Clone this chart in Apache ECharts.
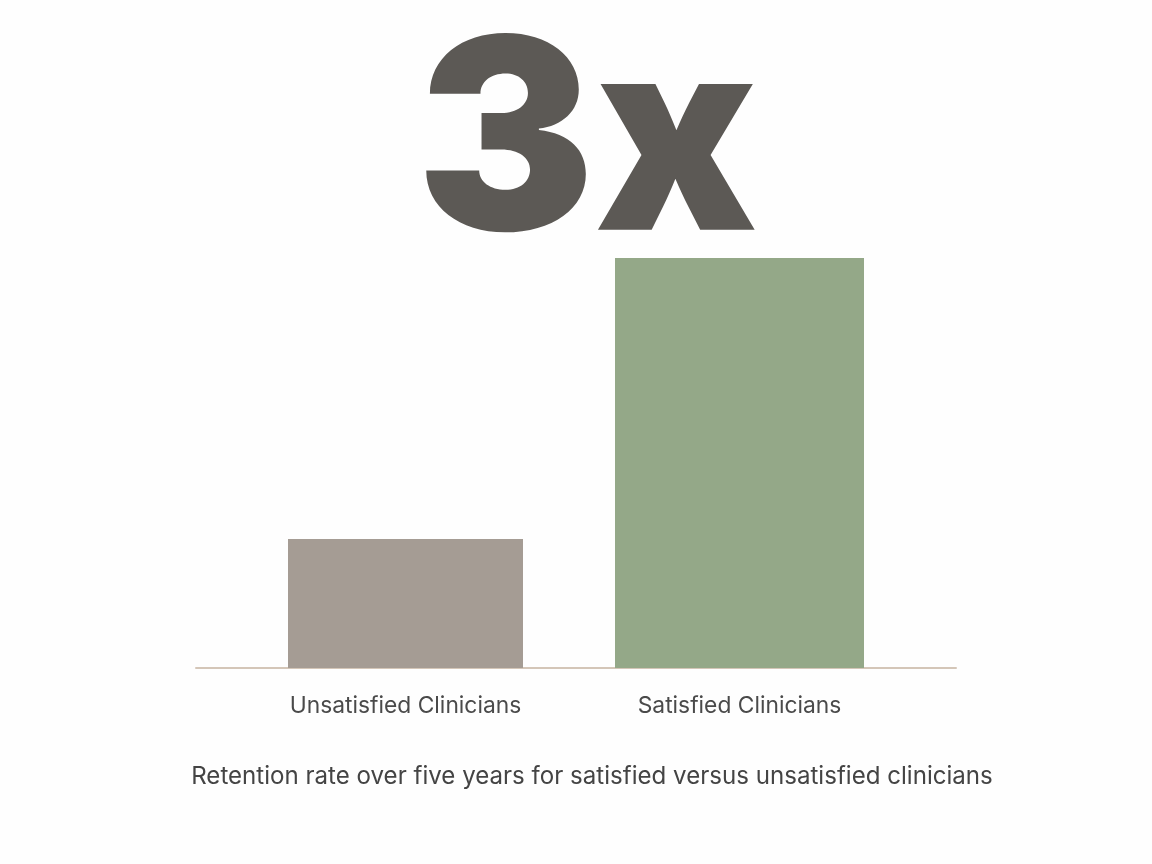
<!DOCTYPE html>
<html>
<head>
<meta charset="utf-8">
<style>
  html, body { margin: 0; padding: 0; background: #fefefe; }
  #main { width: 1152px; height: 864px; }
</style>
<script src="https://cdn.jsdelivr.net/npm/echarts@6/dist/echarts.min.js"></script>
</head>
<body>
<div id="main"></div>
<script>
// values, relative to the unsatisfied bar
const categories = ['Unsatisfied Clinicians', 'Satisfied Clinicians'];
const retention = [1, 3.18];
const headline = '3x';
const caption = 'Retention rate over five years for satisfied versus unsatisfied clinicians';

const colors = ['#a59c94', '#94a888'];
const axisMax = retention[1];

// one grid per bar because the two bars differ in width and are not evenly spaced
const grids = [
  { left: 196, width: 419, top: 258, height: 410 },
  { left: 523, width: 433, top: 258, height: 410 }
];
const barWidths = [235, 249];

const myChart = echarts.init(document.getElementById('main'), null, { renderer: 'canvas' });

myChart.setOption({
  backgroundColor: '#fefefe',
  animation: false,
  title: [
    {
      text: headline,
      left: 582,
      top: 11,
      textAlign: 'center',
      textStyle: { fontFamily: 'Inter', fontWeight: 900, fontSize: 267, color: '#5c5955' }
    },
    {
      text: caption,
      left: 587,
      top: 760,
      textAlign: 'center',
      textStyle: { fontFamily: 'Inter', fontWeight: 400, fontSize: 24.1, color: '#444444' }
    }
  ],
  grid: grids,
  xAxis: categories.map((name, i) => ({
    type: 'category',
    gridIndex: i,
    data: [name],
    axisTick: { show: false },
    axisLine: { lineStyle: { color: '#d4c6b8', width: 2 } },
    axisLabel: { margin: 27, fontFamily: 'Inter', fontSize: 22.8, color: '#4a4a4a' }
  })),
  yAxis: categories.map((name, i) => ({
    type: 'value',
    gridIndex: i,
    min: 0,
    max: axisMax,
    show: false
  })),
  series: categories.map((name, i) => ({
    type: 'bar',
    name: name,
    xAxisIndex: i,
    yAxisIndex: i,
    data: [retention[i]],
    barWidth: barWidths[i],
    itemStyle: { color: colors[i] }
  }))
});
</script>
</body>
</html>
